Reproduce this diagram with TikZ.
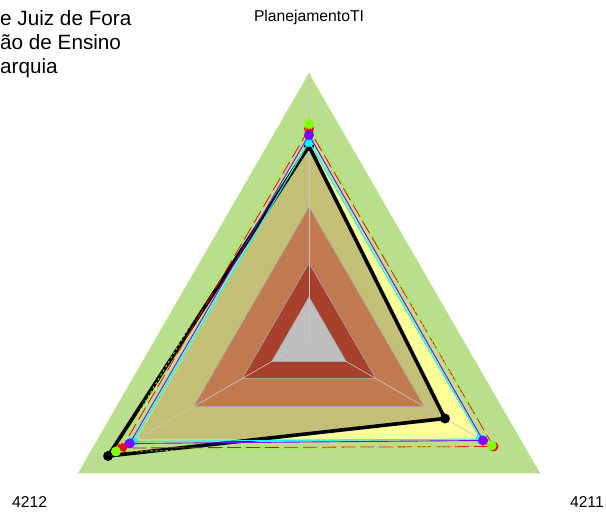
\documentclass[tikz,border=0pt]{standalone}
\usepackage{fontspec}
\setmainfont{Liberation Sans}
\usepackage{tikz}
\definecolor{bandgreen}{HTML}{B9DF8C}
\definecolor{bandyellow}{HTML}{FFFF99}
\definecolor{bandolive}{HTML}{C3BF76}
\definecolor{bandorange}{HTML}{C17A50}
\definecolor{banddark}{HTML}{A8412C}
\definecolor{bandgray}{HTML}{BEBEBE}
\definecolor{rbred}{HTML}{FF0000}
\definecolor{rbgreen}{HTML}{80FF00}
\definecolor{rbcyan}{HTML}{00FFFF}
\definecolor{rbviolet}{HTML}{8000FF}
\def\tri#1{(90:#1) -- (210:#1) -- (330:#1) -- cycle}
\def\serie#1#2#3{(90:#1) -- (210:#2) -- (330:#3) -- cycle}
\def\pts#1#2#3{(90:#1) circle (5) (210:#2) circle (5) (330:#3) circle (5)}
\def\titlefont{\fontsize{20.7}{24}\selectfont}
\def\axisfont{\fontsize{15.7}{18}\selectfont}

\begin{document}
\begin{tikzpicture}[x=1pt,y=1pt]
                \useasboundingbox (-309,-173) rectangle (297,340);
                % bands
                \fill[bandgreen] \tri{267};
                \fill[bandyellow] \tri{199};
                \begin{scope}
                    \clip \serie{194}{232}{157};
                    \fill[bandolive] \tri{199};
                \end{scope}
                \fill[bandorange] \tri{133};
                \fill[banddark] \tri{77};
                \fill[bandgray] \tri{43};
                \draw[gray!70,line width=0.6pt] \tri{43} \tri{77} \tri{133};
                \foreach \a in {90,210,330}
                    \draw[gray!45,line width=0.6pt] (0,0) -- (\a:267);
                % series
                \draw[black,line width=3.6pt,line join=round] \serie{194}{232}{157};
                \fill[black] \pts{194}{232}{157};
                \draw[rbred,dash pattern=on 14pt off 5pt,line width=0.8pt] \serie{211}{216}{213};
                \fill[rbred] \pts{211}{216}{213};
                \draw[rbgreen,dash pattern=on 2pt off 3pt,line width=0.9pt] \serie{216}{223}{211};
                \fill[rbgreen] \pts{216}{223}{211};
                \draw[rbcyan,line width=1pt] \serie{198}{203}{198};
                \fill[rbcyan] \pts{198}{203}{198};
                \draw[rbviolet,line width=0.9pt] \serie{205}{207}{201};
                \fill[rbviolet] \pts{205}{207}{201};
                % labels
                \node[anchor=base west,inner sep=0] (titleA) at (-309,314) {\titlefont e Juiz de Fora};
                \node[anchor=base west,inner sep=0] (titleB) at (-309,290) {\titlefont ão de Ensino};
                \node[anchor=base west,inner sep=0] (titleC) at (-309,266) {\titlefont arquia};
                \node[anchor=base,inner sep=0] (axisTI) at (0,318) {\axisfont PlanejamentoTI};
                \node[anchor=base west,inner sep=0] (axisL) at (-297,-168) {\axisfont 4212};
                \node[anchor=base east,inner sep=0] (axisR) at (295,-168) {\axisfont 4211};
            \end{tikzpicture}
\end{document}
